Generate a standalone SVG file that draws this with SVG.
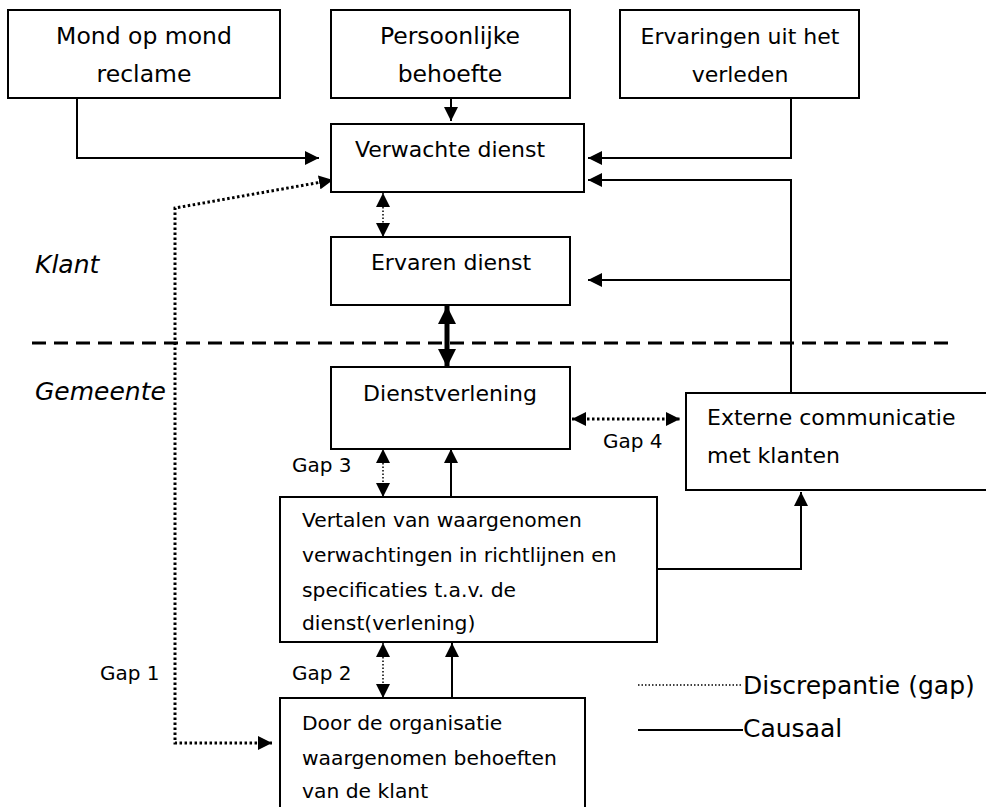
<svg xmlns="http://www.w3.org/2000/svg" width="986" height="807" viewBox="0 0 986 807">
<style>
  text { font-family: "DejaVu Sans", "Liberation Sans", sans-serif; fill: #000; }
  .box { fill: #fff; stroke: #000; stroke-width: 2; }
  .lbl { font-size: 22px; }
  .top { font-size: 23.5px; }
  .mid { text-anchor: middle; }
  .sm { font-size: 20.3px; }
  .gap { font-size: 20px; }
  .it { font-size: 25px; font-style: italic; }
  .leg { font-size: 25px; }
  .solid { fill: none; stroke: #000; stroke-width: 2; }
  .dot { fill: none; stroke: #000; stroke-width: 3; stroke-dasharray: 2.5 2.5; }
  .dotthin { fill: none; stroke: #000; stroke-width: 1.5; stroke-dasharray: 1.5 2; }
</style>
<defs>
  <marker id="ah" viewBox="0 0 14 14" refX="14" refY="7" markerWidth="14" markerHeight="14" markerUnits="userSpaceOnUse" orient="auto-start-reverse">
    <path d="M0,0 L14,7 L0,14 z" fill="#000"/>
  </marker>
  <marker id="ahb" viewBox="0 0 18 18" refX="18" refY="9" markerWidth="18" markerHeight="18" markerUnits="userSpaceOnUse" orient="auto-start-reverse">
    <path d="M0,0 L18,9 L0,18 z" fill="#000"/>
  </marker>
</defs>

<g id="connectors">
  <polyline class="solid" points="77,94 77,158 319,158" marker-end="url(#ah)"/>
  <line class="solid" x1="451" y1="98" x2="451" y2="121" marker-end="url(#ah)"/>
  <polyline class="solid" points="791,94 791,158 588,158" marker-end="url(#ah)"/>
  <polyline class="solid" points="791,393 791,180 588,180" marker-end="url(#ah)"/>
  <line class="solid" x1="791" y1="280" x2="588" y2="280" marker-end="url(#ah)"/>
  <line class="dotthin" x1="383" y1="193" x2="383" y2="237" marker-start="url(#ah)" marker-end="url(#ah)"/>
  <line x1="447" y1="306" x2="447" y2="367" stroke="#000" stroke-width="5" marker-start="url(#ahb)" marker-end="url(#ahb)"/>
  <line class="dot" x1="572" y1="419" x2="680" y2="419" marker-start="url(#ah)" marker-end="url(#ah)"/>
  <line class="dotthin" x1="383" y1="449" x2="383" y2="497" marker-start="url(#ah)" marker-end="url(#ah)"/>
  <line class="solid" x1="451" y1="497" x2="451" y2="449" marker-end="url(#ah)"/>
  <polyline class="solid" points="657,569 801,569 801,492" marker-end="url(#ah)"/>
  <line class="dotthin" x1="383" y1="643" x2="383" y2="698" marker-start="url(#ah)" marker-end="url(#ah)"/>
  <line class="solid" x1="452" y1="698" x2="452" y2="643" marker-end="url(#ah)"/>
  <path class="dot" d="M333,180 L175,208 L175,743 L272,743" marker-start="url(#ah)" marker-end="url(#ah)"/>
  <line x1="32" y1="343" x2="952" y2="343" stroke="#000" stroke-width="3" stroke-dasharray="14 8"/>
</g>

<g id="mond">
  <rect class="box" x="8" y="10" width="272" height="88"/>
  <text class="top mid" x="144" y="44">Mond op mond</text>
  <text class="top mid" x="144" y="82">reclame</text>
</g>
<g id="persoonlijk">
  <rect class="box" x="331" y="10" width="239" height="88"/>
  <text class="top mid" x="450" y="44">Persoonlijke</text>
  <text class="top mid" x="450" y="82">behoefte</text>
</g>
<g id="ervaringen">
  <rect class="box" x="620" y="10" width="239" height="88"/>
  <text class="lbl mid" x="740" y="44">Ervaringen uit het</text>
  <text class="lbl mid" x="740" y="82">verleden</text>
</g>
<g id="verwacht">
  <rect class="box" x="331" y="124" width="253" height="68"/>
  <text class="lbl mid" x="450" y="157" font-size="22.6">Verwachte dienst</text>
</g>
<g id="ervaren">
  <rect class="box" x="331" y="237" width="239" height="68"/>
  <text class="lbl mid" x="451" y="270">Ervaren dienst</text>
</g>
<g id="dienstverlening">
  <rect class="box" x="331" y="367" width="239" height="82"/>
  <text class="lbl mid" x="450" y="401">Dienstverlening</text>
</g>
<g id="extern">
  <rect class="box" x="686" y="393" width="310" height="97"/>
  <text class="lbl" x="707" y="425">Externe communicatie</text>
  <text class="lbl" x="707" y="463">met klanten</text>
</g>
<g id="vertalen">
  <rect class="box" x="280" y="497" width="377" height="145"/>
  <text class="sm" x="302" y="527">Vertalen van waargenomen</text>
  <text class="sm" x="302" y="562">verwachtingen in richtlijnen en</text>
  <text class="sm" x="302" y="597">specificaties t.a.v. de</text>
  <text class="sm" x="302" y="630">dienst(verlening)</text>
</g>
<g id="door">
  <rect class="box" x="280" y="698" width="305" height="130"/>
  <text class="sm" x="302" y="730">Door de organisatie</text>
  <text class="sm" x="302" y="765">waargenomen behoeften</text>
  <text class="sm" x="302" y="798">van de klant</text>
</g>

<g id="labels">
  <text class="it" x="35" y="273">Klant</text>
  <text class="it" x="35" y="400" font-size="26">Gemeente</text>
  <text class="gap" x="100" y="680">Gap 1</text>
  <text class="gap" x="292" y="680">Gap 2</text>
  <text class="gap" x="292" y="472">Gap 3</text>
  <text class="gap" x="603" y="448">Gap 4</text>
</g>

<g id="legend">
  <line class="dotthin" x1="638" y1="685" x2="742" y2="685"/>
  <text class="leg" x="743" y="694">Discrepantie (gap)</text>
  <line class="solid" x1="638" y1="730" x2="743" y2="730"/>
  <text class="leg" x="743" y="737">Causaal</text>
</g>
</svg>
